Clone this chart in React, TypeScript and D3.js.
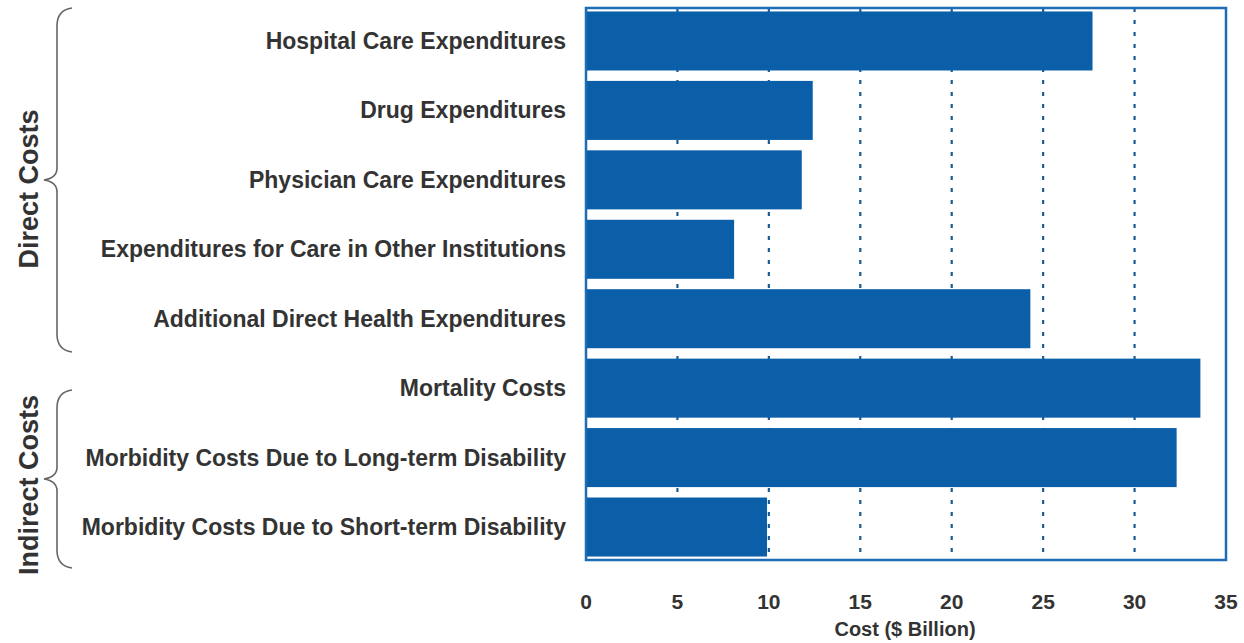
import React, { useEffect } from "react";
import * as d3 from "d3";

const categories = [
  "Hospital Care Expenditures",
  "Drug Expenditures",
  "Physician Care Expenditures",
  "Expenditures for Care in Other Institutions",
  "Additional Direct Health Expenditures",
  "Mortality Costs",
  "Morbidity Costs Due to Long-term Disability",
  "Morbidity Costs Due to Short-term Disability",
];
const values = [27.7, 12.4, 11.8, 8.1, 24.3, 33.6, 32.3, 9.9];
const groups = [
  { label: "Direct Costs", first: 0, last: 4 },
  { label: "Indirect Costs", first: 5, last: 7 },
];
const xTicks = [0, 5, 10, 15, 20, 25, 30, 35];
const gridTicks = [5, 10, 15, 20, 25, 30];
const xTitle = "Cost ($ Billion)";

const W = 1244;
const H = 643;
const plot = { left: 586, right: 1226, top: 8, bottom: 560 };
const textColor = "#333333";
const barColor = "#0b5ea8";
const frameColor = "#1c6db6";
const font = "'Liberation Sans', Arial, sans-serif";

export default function App() {
  useEffect(() => {
    document.body.style.margin = "0";
  }, []);

  const x = d3.scaleLinear().domain([0, 35]).range([plot.left, plot.right]);
  const y = d3
    .scaleBand<string>()
    .domain(categories)
    .range([plot.top, plot.bottom])
    .paddingInner(0.15)
    .paddingOuter(0.05);

  const bracePath = (y0: number, y1: number) => {
    const xr = 72; // tips
    const xv = 57; // vertical line
    const xc = 44; // cusp
    const ym = (y0 + y1) / 2;
    const p = d3.path();
    p.moveTo(xr, y0);
    p.quadraticCurveTo(xv, y0 + 2, xv, y0 + 18);
    p.lineTo(xv, ym - 12);
    p.quadraticCurveTo(xv, ym - 2, xc, ym);
    p.quadraticCurveTo(xv, ym + 2, xv, ym + 12);
    p.lineTo(xv, y1 - 18);
    p.quadraticCurveTo(xv, y1 - 2, xr, y1);
    return p.toString();
  };

  const braceRanges = [
    { y0: 8, y1: 352, labelY: 189 },
    { y0: 390, y1: 568, labelY: 485 },
  ];

  return (
    <svg
      width={W}
      height={H}
      style={{ position: "absolute", left: 0, top: 0, background: "#fff" }}
      fontFamily={font}
    >
      {/* grid lines */}
      {gridTicks.map((t) => (
        <line
          key={"g" + t}
          x1={x(t)}
          x2={x(t)}
          y1={plot.top}
          y2={plot.bottom}
          stroke="#1d5c98"
          strokeWidth={2.2}
          strokeDasharray="4 8"
        />
      ))}
      {/* bars */}
      {categories.map((c, i) => (
        <rect
          key={c}
          x={x(0)}
          y={y(c)!}
          width={x(values[i]) - x(0)}
          height={y.bandwidth()}
          fill={barColor}
        />
      ))}
      {/* frame */}
      <rect
        x={plot.left}
        y={plot.top}
        width={plot.right - plot.left}
        height={plot.bottom - plot.top}
        fill="none"
        stroke={frameColor}
        strokeWidth={2.5}
      />
      {/* category labels */}
      {categories.map((c) => (
        <text
          key={"l" + c}
          x={566}
          y={y(c)! + y.bandwidth() / 2}
          dy="0.35em"
          textAnchor="end"
          fontSize={23}
          fontWeight="bold"
          fill={textColor}
        >
          {c}
        </text>
      ))}
      {/* x tick labels */}
      {xTicks.map((t) => (
        <text
          key={"t" + t}
          x={x(t)}
          y={602}
          dy="0.35em"
          textAnchor="middle"
          fontSize={21}
          fontWeight="bold"
          fill={textColor}
        >
          {t}
        </text>
      ))}
      <text
        x={905}
        y={629}
        dy="0.35em"
        textAnchor="middle"
        fontSize={20}
        fontWeight="bold"
        fill={textColor}
      >
        {xTitle}
      </text>
      {/* braces and group labels */}
      {groups.map((g, i) => {
        const r = braceRanges[i];
        return (
          <g key={g.label}>
            <path
              d={bracePath(r.y0, r.y1)}
              fill="none"
              stroke="#666"
              strokeWidth={1.6}
            />
            <text
              transform={`translate(29,${r.labelY}) rotate(-90)`}
              dy="0.35em"
              textAnchor="middle"
              fontSize={27}
              fontWeight="bold"
              fill={textColor}
            >
              {g.label}
            </text>
          </g>
        );
      })}
    </svg>
  );
}
